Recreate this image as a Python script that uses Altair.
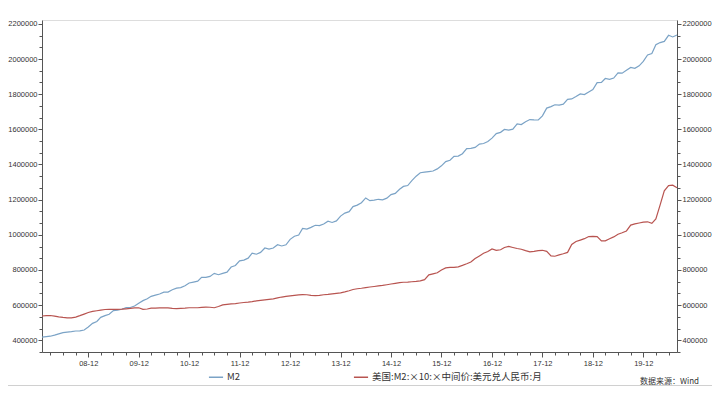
import altair as alt
import pandas as pd

# monthly, Jan 2008 .. Aug 2020
dates = pd.date_range("2008-01-01", periods=152, freq="MS")

m2_cn = [
    417800, 421000, 423100, 429300, 436200, 443100, 446400, 448800, 452900, 453100, 458600, 475200,
    496100, 506700, 530600, 540500, 548300, 568900, 571300, 576700, 585400, 586600, 594600, 610200,
    625600, 636100, 649900, 656600, 663400, 673900, 674100, 687500, 696500, 699800, 710300, 725900,
    730800, 736100, 758100, 757400, 763400, 780800, 772900, 780900, 787400, 816800, 825500, 851600,
    855900, 867200, 895600, 889600, 900000, 925000, 919100, 924900, 943700, 936400, 943000, 974100,
    992100, 998600, 1035900, 1032600, 1042200, 1054400, 1052200, 1061300, 1077400, 1070200, 1079300, 1106500,
    1123500, 1131800, 1160700, 1168800, 1182300, 1209600, 1194200, 1197500, 1202100, 1199200, 1208600, 1228400,
    1235800, 1259300, 1275300, 1280100, 1308600, 1333400, 1353200, 1356900, 1359800, 1363000, 1374900, 1392300,
    1416300, 1424300, 1446200, 1447800, 1461100, 1490500, 1491600, 1497500, 1516400, 1519500, 1530400, 1550100,
    1575900, 1582900, 1599600, 1596000, 1601400, 1631300, 1627500, 1643100, 1655700, 1653400, 1653100, 1676800,
    1720800, 1729100, 1739900, 1737700, 1743100, 1770200, 1773000, 1786800, 1801700, 1797900, 1812700, 1826700,
    1865900, 1867400, 1889400, 1884700, 1891500, 1921400, 1919400, 1935500, 1952100, 1946800, 1961400, 1986500,
    2023100, 2030800, 2080900, 2093500, 2100200, 2134900, 2125500, 2136800,
]

m2_us = [
    538000, 540000, 541000, 537000, 533000, 530000, 528000, 528000, 532000, 540000, 549000, 558000,
    564000, 568000, 572000, 575000, 576000, 576000, 576000, 577000, 579000, 581000, 584000, 585000,
    576000, 578000, 583000, 583000, 584000, 585000, 584000, 581000, 580000, 582000, 583000, 585000,
    585000, 585000, 587000, 589000, 588000, 585000, 592000, 601000, 604000, 607000, 609000, 612000,
    615000, 617000, 620000, 624000, 627000, 630000, 633000, 636000, 641000, 646000, 650000, 653000,
    656000, 658000, 660000, 659000, 655000, 654000, 656000, 659000, 661000, 664000, 667000, 670000,
    675000, 682000, 689000, 693000, 696000, 700000, 703000, 706000, 709000, 712000, 716000, 720000,
    724000, 728000, 730000, 731000, 733000, 735000, 738000, 745000, 772000, 778000, 784000, 800000,
    812000, 815000, 815000, 818000, 826000, 835000, 845000, 865000, 880000, 895000, 905000, 920000,
    912000, 915000, 928000, 934000, 928000, 922000, 918000, 910000, 903000, 906000, 910000, 912000,
    906000, 880000, 878000, 886000, 892000, 900000, 945000, 962000, 970000, 978000, 990000, 991000,
    990000, 965000, 966000, 978000, 988000, 1003000, 1012000, 1022000, 1055000, 1062000, 1067000, 1072000,
    1074000, 1065000, 1090000, 1170000, 1250000, 1280000, 1282000, 1268000,
]

series_names = ["M2", "美国:M2:×10:×中间价:美元兑人民币:月"]
series_colors = ["#7BA3C6", "#B85450"]
source_text = ["数据来源：Wind"]

y_major = list(range(400000, 2200001, 200000))
y_ticks = sorted(set(y_major + [round(400000 + k * 200000 / 3, 2) for k in range(-1, 28) if k % 3 != 0]))
x_ticks = [alt.DateTime(year=y, month=m, date=1) for y in range(2008, 2021) for m in (3, 6, 9, 12)
           if (y, m) <= (2020, 6)]

df = pd.DataFrame({
    "date": list(dates) + list(dates),
    "value": m2_cn + m2_us,
    "series": [series_names[0]] * len(m2_cn) + [series_names[1]] * len(m2_us),
})

axis_common = dict(grid=False, domainColor="#555", tickColor="#555", labelColor="#333",
                   labelFont="Liberation Sans", title=None)

x_enc = alt.X(
    "date:T",
    scale=alt.Scale(domain=[alt.DateTime(year=2008, month=1, date=1),
                            alt.DateTime(year=2020, month=8, date=1)]),
    axis=alt.Axis(values=x_ticks, labelFontSize=7.5, labelPadding=2,
                  labelExpr="month(datum.value) == 11 ? timeFormat(datum.value, '%y-%m') : ''",
                  tickSize={"condition": {"test": "month(datum.value) == 11", "value": 5}, "value": 3},
                  labelOverlap=False, **axis_common),
)

y_scale = alt.Scale(domain=[333333, 2222000], nice=False, zero=False)
y_label_expr = "datum.value % 200000 === 0 ? format(datum.value, 'd') : ''"
y_tick_size = {"condition": {"test": "datum.value % 200000 === 0", "value": 4}, "value": 3}

lines = alt.Chart(df).mark_line(strokeWidth=1.2).encode(
    x=x_enc,
    y=alt.Y("value:Q", scale=y_scale,
            axis=alt.Axis(orient="left", values=y_ticks, labelExpr=y_label_expr, tickSize=y_tick_size,
                          labelFontSize=7.5, labelPadding=1, labelOverlap=False, **axis_common)),
    color=alt.Color("series:N",
                    scale=alt.Scale(domain=series_names, range=series_colors),
                    legend=alt.Legend(title=None, orient="none", legendX=166, legendY=349,
                                      direction="horizontal", columns=2, columnPadding=110,
                                      symbolType="stroke", symbolSize=200, symbolStrokeWidth=1.5,
                                      labelFont="Noto Sans CJK SC", labelFontSize=9.5, labelLimit=400,
                                      labelColor="#333", labelOffset=3)),
)

right = alt.Chart(df).mark_line(opacity=0).encode(
    x=x_enc,
    y=alt.Y("value:Q", scale=y_scale,
            axis=alt.Axis(orient="right", values=y_ticks, labelExpr=y_label_expr, tickSize=y_tick_size,
                          labelFontSize=7.5, labelPadding=1, labelOverlap=False, **axis_common)),
    detail="series:N",
)

source = alt.Chart(pd.DataFrame({"t": source_text})).mark_text(
    align="right", baseline="alphabetic", fontSize=8, font="Noto Sans CJK SC", color="#333"
).encode(text="t:N", x=alt.value(657), y=alt.value(364))

bottom_line = alt.Chart(pd.DataFrame({"v": [0]})).mark_rule(color="#d0d0d0", strokeWidth=1).encode(
    x=alt.value(-42), x2=alt.value(680), y=alt.value(365.5)
)

chart = alt.layer(lines, right, source, bottom_line).resolve_scale(y="independent").properties(
    width=635, height=332,
    padding={"left": 34, "top": 12, "right": 35, "bottom": 34},
    autosize=alt.AutoSizeParams(type="none"),
).configure_view(strokeWidth=0).configure(background="white")

chart.save("out.html", embed_options={"renderer": "svg", "actions": False})
